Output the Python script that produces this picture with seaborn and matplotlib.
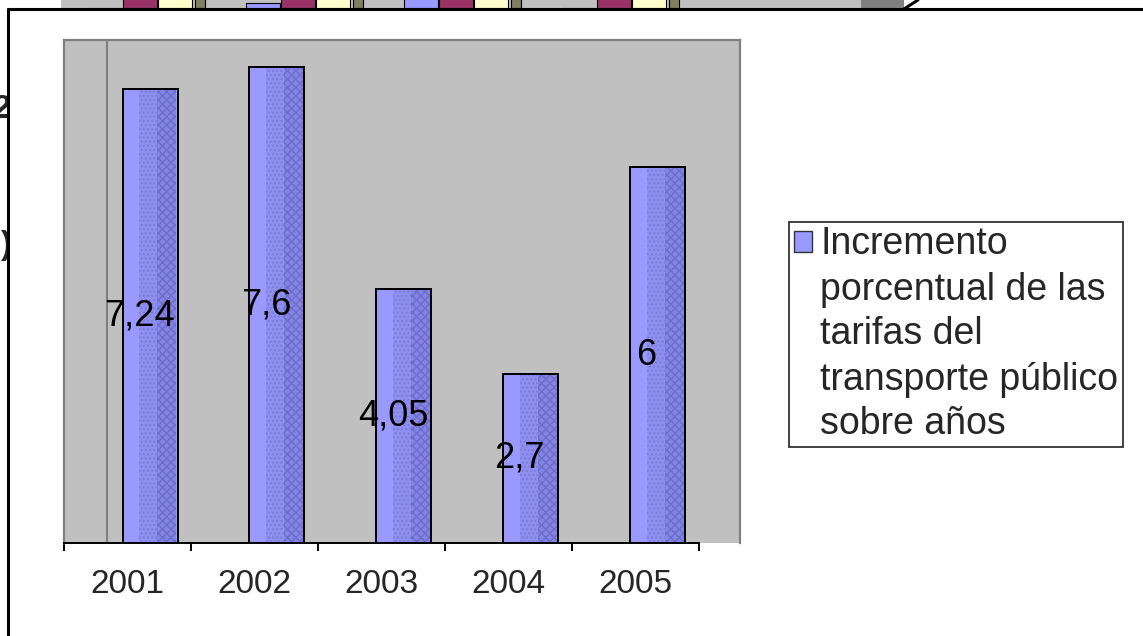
import matplotlib
matplotlib.use("Agg")
import matplotlib.pyplot as plt
from matplotlib.patches import Patch, Rectangle
from matplotlib.lines import Line2D
import seaborn as sns
import numpy as np
import pandas as pd

# main chart data
years = ["2001", "2002", "2003", "2004", "2005"]
increments = [7.24, 7.6, 4.05, 2.7, 6]
legend_lines = ["Incremento", "porcentual de las", "tarifas del",
                "transporte público", "sobre años"]

# the chart underneath, only its cut-off top edge is visible
back_groups = [0.5, 1.5, 2.5, 3.5]
back_purple = [0, 0.6, 2, 0]
back_maroon = [2, 2, 2, 2]
back_yellow = [2, 2, 2, 2]
back_olive = [2, 2, 2, 2]

W, H = 1143, 636
BAR = "#9999FF"

sns.set_style("ticks")
plt.rcParams["font.family"] = ["Liberation Sans", "DejaVu Sans"]

fig = plt.figure(figsize=(W / 100, H / 100), dpi=100)
fig.patch.set_facecolor("white")

# fragments of the page behind the chart
fig.text(11 / W, 1 - 110 / H, "2", ha="right", va="center", fontsize=24,
         fontweight="bold", zorder=-3)
fig.text(11 / W, 1 - 245 / H, ")", ha="right", va="center", fontsize=24,
         fontweight="bold", zorder=-3)
fig.patches.append(Rectangle((8 / W, 0), 1, 1 - 9 / H, transform=fig.transFigure,
                             facecolor="white", edgecolor="none", zorder=-2))

# top strip (chart behind)
axb = fig.add_axes([61 / W, 1 - 8 / H, (904 - 61) / W, 8 / H])
axb.set_facecolor("#C0C0C0")
gx = np.array(back_groups)
axb.axvspan(5.06, 5.4, color="#808080", lw=0)
axb.bar(gx - 0.222, back_purple, width=0.215, color="#9999FF", edgecolor="black", lw=0.8)
axb.bar(gx, back_maroon, width=0.215, color="#993366", edgecolor="black", lw=0.8)
axb.bar(gx + 0.222, back_yellow, width=0.215, color="#FFFFCC", edgecolor="black", lw=0.8)
axb.bar(gx + 0.377, back_olive, width=0.063, color="#808060", edgecolor="black", lw=0.8)
axb.set_xlim(0, 5.335)
axb.set_ylim(0, 1)
axb.set_xticks([])
axb.set_yticks([])
for s in axb.spines.values():
    s.set_visible(False)

# chart frame lines
fig.lines.append(Line2D([8 / W, 1], [1 - 9 / H, 1 - 9 / H], transform=fig.transFigure,
                        color="black", lw=2.2, zorder=5))
fig.lines.append(Line2D([8 / W, 8 / W], [0, 1 - 9 / H], transform=fig.transFigure,
                        color="black", lw=2.2, zorder=5))
fig.lines.append(Line2D([904 / W, 918 / W], [1 - 9 / H, 1], transform=fig.transFigure,
                        color="black", lw=2.2, zorder=5))

# main plot area
ax = fig.add_axes([64 / W, 1 - 543 / H, (740 - 64) / W, (543 - 40) / H])
ax.set_facecolor("#C0C0C0")

# bars sit a bit right of the category centre in the original
pos = np.arange(len(years))
bar_x = pos + 0.178
df = pd.DataFrame({"x": bar_x, "value": increments})
sns.barplot(data=df, x="x", y="value", native_scale=True, color=BAR, saturation=1,
            width=0.434, edgecolor="black", linewidth=1.4, ax=ax, zorder=3)

# dotted shading on the right part of each bar
ax.bar(bar_x + 0.06, increments, width=0.29, color="#8f8ff2", hatch="....",
       edgecolor="#7c7cd8", linewidth=0, zorder=4)
ax.bar(bar_x + 0.13, increments, width=0.15, color="#8484e6", hatch="xxxx",
       edgecolor="#6e6eca", linewidth=0, zorder=4)
ax.bar(bar_x, increments, width=0.434, fill=False, edgecolor="black", linewidth=1.4, zorder=5)

for x, v in zip(bar_x, increments):
    ax.annotate(f"{v:g}".replace(".", ","), xy=(x, v / 2), xytext=(-11, 0),
                textcoords="offset pixels", ha="center", va="center",
                fontsize=26, color="black", zorder=6)

ax.axvline(-0.161, color="#808080", lw=1.5, zorder=2)

ax.set_xlim(-0.5, 4.827)
ax.set_ylim(0, 8.03)
ax.set_xlabel("")
ax.set_ylabel("")
ax.set_yticks([])
ax.set_xticks(pos)
ax.set_xticklabels(years, fontsize=24)
ax.set_xticks(np.arange(-0.5, 5, 1), minor=True)
ax.tick_params(axis="x", which="major", length=0, pad=19)
ax.tick_params(axis="x", which="minor", length=6, width=1.4, color="black", direction="out")

for side in ["top", "right", "left"]:
    ax.spines[side].set_color("#808080")
    ax.spines[side].set_linewidth(1.6)
ax.spines["bottom"].set_color("black")
ax.spines["bottom"].set_linewidth(1.4)
ax.spines["bottom"].set_bounds(-0.5, 4.5)

# legend: square beside the first line, the rest of the label wrapped below
handles = [Patch(facecolor=BAR, edgecolor="#333333", lw=1)]
handles += [Patch(facecolor="none", edgecolor="none") for _ in legend_lines[1:]]
leg = ax.legend(handles=handles, labels=legend_lines, loc="upper left",
                bbox_to_anchor=(789 / W, 1 - 222 / H), bbox_transform=fig.transFigure,
                fontsize=27, frameon=True, fancybox=False, borderpad=0.12,
                borderaxespad=0, handlelength=0.5, handleheight=0.5,
                handletextpad=0.22, labelspacing=0.24)
leg.get_frame().set_edgecolor("black")
leg.get_frame().set_linewidth(1.3)

fig.savefig("out.png", dpi=100)
